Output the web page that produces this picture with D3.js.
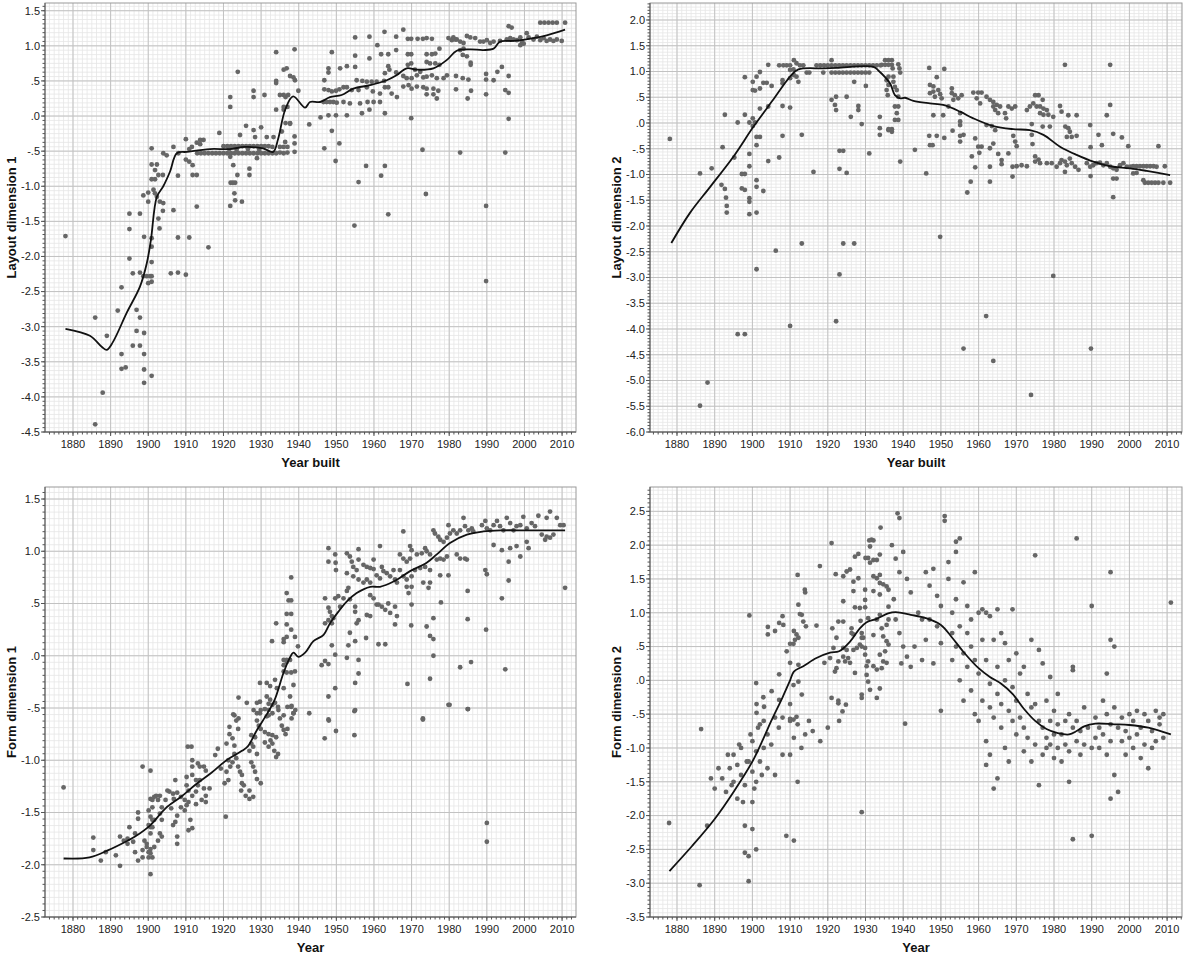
<!DOCTYPE html>
<html>
<head>
<meta charset="utf-8">
<title>Layout and form dimensions by year</title>
<script src="https://d3js.org/d3.v7.min.js"></script>
<style>
  body { margin: 0; background: #fff; }
  svg { display: block; font-family: Arial, "Liberation Sans", sans-serif; }
  .tick-label { font-size: 11px; fill: #222; }
  .axis-title { font-size: 13px; font-weight: bold; fill: #111; }
</style>
</head>
<body>
<svg id="chart"></svg>
<script>
// ---- data (year, score) ----
const yearTicks = [1880, 1890, 1900, 1910, 1920, 1930, 1940, 1950, 1960, 1970, 1980, 1990, 2000, 2010];
const layout1Ticks = [-4.5, -4, -3.5, -3, -2.5, -2, -1.5, -1, -0.5, 0, 0.5, 1, 1.5];
const layout2Ticks = [-6, -5.5, -5, -4.5, -4, -3.5, -3, -2.5, -2, -1.5, -1, -0.5, 0, 0.5, 1, 1.5, 2];
const form1Ticks = [-2.5, -2, -1.5, -1, -0.5, 0, 0.5, 1, 1.5];
const form2Ticks = [-3.5, -3, -2.5, -2, -1.5, -1, -0.5, 0, 0.5, 1, 1.5, 2, 2.5];

const layout1Pts = [
  [1878,-1.71],[1895,-1.39],[1897.8,-1.39],[1895,-1.61],[1898.9,-1.72],[1900.9,-0.46],[1900.9,-0.69],[1902.3,-0.69],
  [1901.8,-0.77],[1900.9,-0.9],[1901.8,-0.9],[1902.7,-0.84],[1903.9,-0.84],[1904,-0.53],[1904.9,-0.56],[1906.7,-0.44],
  [1908,-0.53],[1898.7,-1.13],[1900,-1.09],[1901.4,-1.05],[1901.8,-1.1],[1902.3,-1.15],[1903.1,-1.22],[1904,-1.24],
  [1900,-1.22],[1903.9,-1.35],[1906.7,-1.34],[1902.7,-1.46],[1903,-1.6],[1907.9,-0.85],[1907.9,-1.73],[1910.9,-1.73],
  [1910,-0.33],[1910,-0.62],[1910.9,-0.65],[1911.8,-0.7],[1911.8,-0.84],[1912.9,-0.84],[1912.9,-1.29],[1910.9,-0.47],
  [1911.6,-0.44],[1912.9,-0.38],[1913.8,-0.34],[1914.7,-0.34],[1913.8,-0.4],[1918.9,-0.24],
  [1913,-0.53],[1914,-0.53],[1915,-0.53],[1916,-0.53],[1917,-0.53],[1918,-0.53],[1919,-0.53],[1920,-0.53],
  [1921,-0.53],[1922,-0.53],[1923,-0.53],[1924,-0.53],[1925,-0.53],[1926,-0.53],[1927,-0.53],[1928,-0.53],
  [1929,-0.53],[1930,-0.53],[1931,-0.53],[1932,-0.53],[1933,-0.53],[1934,-0.53],[1935,-0.52],[1936,-0.53],
  [1937,-0.52],[1938.9,-0.51],
  [1920,-0.43],[1921,-0.43],[1922,-0.43],[1923,-0.43],[1924,-0.43],[1925,-0.43],[1926,-0.43],[1927,-0.43],
  [1928,-0.43],[1929,-0.43],[1930,-0.43],[1931,-0.43],[1932,-0.43],[1933,-0.44],[1935,-0.44],[1936,-0.44],[1937,-0.44],
  [1921.5,-0.47],[1923.5,-0.48],[1926.5,-0.47],[1929.5,-0.48],
  [1921.8,0.27],[1921.8,0.13],[1923.8,0.63],[1928,0.36],[1928,0.27],[1930.9,0.3],[1924.4,-0.27],[1926,-0.14],
  [1928,-0.2],[1928.4,-0.3],[1930,-0.16],[1931.5,-0.3],[1933.3,-0.3],[1921.9,-0.95],[1922.5,-0.95],[1923.1,-0.95],
  [1922.9,-1.1],[1923.1,-1.2],[1921.8,-1.28],[1924.9,-1.22],[1923.7,-0.84],[1926.9,-0.75],[1926.9,-0.84],
  [1922.6,-0.7],[1921.8,-0.58],[1928.9,-0.6],
  [1934,0.91],[1938.9,0.95],[1934,0.5],[1934,0.47],[1936,0.66],[1936.8,0.68],[1937.7,0.57],[1938.6,0.55],
  [1939,0.51],[1936.5,0.27],[1934,0.09],[1936,0.09],[1936.5,-0.1],[1937.7,-0.1],[1935.5,-0.22],[1936.4,-0.37],
  [1938.9,-0.29],[1938.9,-0.39],[1935,0.3],[1936,0.3],[1937.2,0.3],[1939.9,0.36],[1936,0.13],[1937,0.13],
  [1937.7,-0.11],[1942.8,-0.12],
  [1900.9,-1.74],[1900.9,-1.86],[1916,-1.87],[1895,-2.03],[1900.9,-2.08],[1895.9,-2.24],[1897.8,-2.23],[1898.7,-2.28],
  [1899.6,-2.28],[1900.5,-2.28],[1900.9,-2.28],[1900,-2.38],[1900.9,-2.36],[1906,-2.24],[1907.9,-2.23],[1910,-2.26],
  [1892.9,-2.44],[1891.9,-2.77],[1885.9,-2.87],[1896.9,-2.76],[1897.8,-2.87],[1896.9,-3.06],[1898.9,-3.09],[1889,-3.13],
  [1895.9,-3.27],[1897.8,-3.27],[1892.9,-3.39],[1898.9,-3.39],[1892.9,-3.6],[1894,-3.58],[1898.9,-3.61],[1900.9,-3.7],
  [1898.9,-3.8],[1887.9,-3.94],[1885.9,-4.39],[1989.8,-2.35],
  [1945.8,-0.02],[1947.9,0.01],[1949.9,0.01],[1952.8,0.01],[1956.8,0.04],[1958.8,0.09],[1962.9,0.04],[1948.8,-0.21],
  [1950.8,-0.39],[1946.8,-0.46],[1949.8,-0.64],[1955.9,-0.94],[1957.9,-0.71],[1962.9,-0.71],[1961.9,-0.85],[1963.8,-1.4],
  [1954.8,-1.56],[1969.9,-0.03],[1972.9,-0.48],[1973.8,-1.11],[1982.9,-0.52],[1989.8,-1.28],[1994.9,-0.52],[1995.8,-0.04],
  [1948.8,0.91],[1955,1.12],[1958.8,1.13],[1962.8,1.2],[1965.9,1.13],[1967.8,1.23],[1969,1.1],[1969.9,1.1],
  [1971.6,1.1],[1973,1.1],[1974,1.11],[1975.4,1.1],[1960.9,1.01],[1965.9,0.94],[1961.9,0.88],[1963.8,0.88],
  [1955,0.86],[1958.8,0.82],[1955,0.7],[1952.8,0.71],[1951,0.68],[1947.9,0.68],[1947.9,0.62],
  [1946.8,0.51],[1955.4,0.51],[1956.9,0.5],[1958.1,0.49],[1959.4,0.49],[1960.7,0.49],[1962.7,0.5],
  [1946.8,0.38],[1947.9,0.37],[1948.8,0.35],[1949.9,0.36],[1950.8,0.38],[1951.9,0.41],[1952.8,0.41],[1954.1,0.37],
  [1955.9,0.37],[1958.1,0.41],[1959.7,0.35],[1961.6,0.32],[1962.9,0.41],[1963.8,0.41],[1964.7,0.32],[1966.1,0.27],
  [1946.6,0.2],[1947.4,0.2],[1948.3,0.2],[1949.2,0.2],[1950.1,0.19],[1951.9,0.2],[1953.6,0.18],[1956.3,0.18],
  [1958.3,0.2],[1959.9,0.2],[1961.6,0.2],
  [1963.8,0.71],[1964.1,0.66],[1962.9,0.61],[1965.9,0.62],[1969,0.88],[1969.9,0.88],[1974,0.88],[1975.4,0.88],
  [1976.3,0.89],[1977.4,0.96],[1979.8,1.11],[1980.7,1.08],[1981.6,1.09],
  [1969,0.73],[1969.9,0.75],[1970.9,0.66],[1972.3,0.63],[1974,0.77],[1974.9,0.75],[1976.3,0.75],[1977.4,0.73],
  [1967.8,0.57],[1968.7,0.54],[1970,0.54],[1971.4,0.58],[1973.1,0.55],[1974,0.56],[1975.4,0.58],[1976.7,0.54],
  [1978.5,0.54],[1979.4,0.58],[1967.8,0.42],[1969.2,0.44],[1970,0.39],[1971.4,0.42],[1973.1,0.41],[1974,0.39],
  [1975.8,0.39],[1977.1,0.36],[1974,0.31],[1975.8,0.31],[1976.7,0.25],
  [1981.8,0.57],[1983.6,0.54],[1985.1,0.52],[1981.8,0.38],[1985.8,0.36],[1984.9,0.25],
  [1981.1,1.12],[1982,1.09],[1982.9,1.06],[1983.8,1.04],[1984.7,1.14],[1985.6,1.12],[1986.9,1.11],[1982.9,0.94],
  [1983.8,0.96],[1983.6,0.87],[1984.7,0.85],[1985.7,0.76],[1985.7,0.73],
  [1989.8,0.6],[1989.8,0.52],[1991.8,0.51],[1992.8,0.63],[1994,0.7],[1995.8,0.57],[1989.8,0.31],[1994.9,0.37],[1995.8,0.33],
  [1988.2,1.06],[1989.1,1.06],[1990,1.08],[1990.9,1.04],[1991.8,1.06],[1993.5,1.07],[1995.3,1.09],[1996.2,1.11],
  [1997.1,1.09],[1998.9,1.12],[2000.6,1.18],[2001.1,1.12],[2002.4,1.09],[2004.2,1.08],[2005.9,1.07],[2007.7,1.07],
  [2008.6,1.09],[1998,1.08],[1999.3,1.06],[2003.3,1.13],[2005.1,1.11],[2006.8,1.09],[1995.8,1.28],[1996.6,1.26],
  [1998.9,1.01],[1999.8,1.03],[2004.2,1.33],[2005.3,1.33],[2006.4,1.33],[2007.5,1.33],[2008.6,1.33],[2010.8,1.33],
  [2009.9,1.07]
];
const layout1Fit = [
  [1878,-3.03],[1884.5,-3.13],[1887.7,-3.29],[1889,-3.33],[1890.6,-3.22],[1894.3,-2.8],[1897.8,-2.43],[1899.6,-2.1],
  [1900.7,-1.77],[1902.3,-1.15],[1904,-1.0],[1905.8,-0.79],[1907.6,-0.53],[1910.3,-0.51],[1916.4,-0.47],[1921.7,-0.47],
  [1925.7,-0.44],[1930.5,-0.46],[1933.2,-0.51],[1934.5,-0.33],[1936.4,0.09],[1938.5,0.28],[1941.7,0.12],[1943,0.2],
  [1945.7,0.2],[1948.3,0.27],[1951.4,0.3],[1954.5,0.39],[1959,0.44],[1963.4,0.51],[1966,0.58],[1968.7,0.68],
  [1971.4,0.66],[1975.8,0.68],[1979.4,0.8],[1982,0.93],[1985.6,0.95],[1989.1,0.94],[1991.8,0.96],[1993.5,1.06],
  [1997,1.07],[2002.4,1.11],[2005.9,1.15],[2010.8,1.23]
];

const layout2Pts = [
  [1878.1,-0.31],[1886.1,-0.98],[1889.2,-0.88],[1892.1,-0.47],[1892.7,0.16],[1896.1,0.01],[1898,0.16],[1895.2,-0.67],
  [1891.8,-1.2],[1892.7,-1.28],[1893,-1.45],[1893.2,-1.61],[1893.2,-1.74],[1897.2,-0.99],[1898,-0.99],[1897.2,-1.27],
  [1898,-1.3],[1899.2,-1.46],[1899.2,-1.53],[1899.2,-1.77],[1901.1,-1.74],[1899.2,-0.6],[1899.2,-0.84],[1899.2,0.01],
  [1900.1,0.09],[1900.7,0.01],[1900.1,-0.06],[1901.1,-0.27],[1902,-0.27],[1901.1,-0.43],[1901.1,-1.11],[1901.1,-1.24],
  [1902.9,-1.32],[1898,0.89],[1900.1,0.8],[1901.1,0.9],[1902,0.99],[1900.1,0.64],[1900.7,0.63],[1902,0.67],
  [1902.9,0.78],[1903.8,0.78],[1905.1,0.72],[1902,0.28],[1904.2,0.32],[1904.2,-0.74],[1907.1,-0.67],[1904.2,1.13],
  [1908,0.33],[1910,0.3],[1908,-0.25],[1913.1,-0.23],[1908,0.83],[1908,0.77],[1910,0.87],
  [1907.1,1.12],[1908.2,1.12],[1909.1,1.12],[1910,1.12],[1911,1.22],[1911.7,1.16],[1912.6,1.12],[1913.5,1.12],
  [1910,1.03],[1910.9,1.04],[1911,0.93],[1911.7,0.9],[1912.2,0.8],[1914.4,0.98],[1915.1,0.98],[1916.2,-0.95],
  [1917,1.12],[1918,1.12],[1919,1.12],[1920,1.12],[1921,1.12],[1922,1.12],[1923,1.12],[1924,1.12],[1925,1.12],
  [1926,1.12],[1927,1.12],[1928,1.12],[1929,1.12],[1930,1.12],[1931,1.12],[1932,1.12],[1933,1.12],[1934,1.12],
  [1921,1.22],[1918.8,0.98],[1921,0.98],[1922,0.98],[1923,0.98],[1924,0.98],[1925,0.98],[1926,0.98],[1927,0.98],
  [1928,0.98],[1929,0.98],[1930,0.98],[1931,0.98],
  [1921,0.45],[1922.2,0.51],[1922.2,0.25],[1921.9,0.35],[1925,0.51],[1928.1,0.33],[1928.1,0.25],[1926.1,0.12],
  [1929,-0.02],[1930.1,0.72],[1927,0.8],[1923.1,-0.54],[1924.1,-0.54],[1923.1,-0.89],[1925,-0.97],[1931,-0.59],
  [1933.8,0.12],[1933.8,-0.1],[1933.8,-0.23],[1936.1,-0.14],[1935.6,0.83],[1936.1,0.74],[1935.6,0.64],[1935.9,0.54],
  [1935.2,1.22],[1936.1,1.22],[1937,1.22],[1934.3,1.13],[1935.2,1.13],[1936.1,1.13],[1937,1.13],[1937.2,1.06],
  [1938.7,1.14],[1939,1.06],[1939.2,0.98],[1936.1,0.9],[1937.4,0.9],[1937.4,0.8],[1937.8,0.7],[1938.3,0.64],
  [1938.7,0.51],[1937.8,0.32],[1938.7,0.32],[1938.3,0.19],[1937.8,0.06],[1938.7,0.06],[1936.1,-0.12],[1937,-0.12],
  [1937,-0.17],[1939.2,-0.75],[1943.1,-0.52],[1946.1,-0.98],[1946.9,1.07],[1950.9,1.05],[1948.9,0.89],
  [1947.1,0.74],[1948,0.71],[1948,0.61],[1947.1,0.58],[1948.4,0.51],[1949.3,0.64],[1949.8,0.56],[1950.2,0.48],
  [1948,0.15],[1950.6,0.15],[1946.9,-0.25],[1947.8,-0.43],[1947.1,-0.43],[1948.9,-0.25],[1950.9,-0.29],
  [1952.9,0.67],[1952.9,0.58],[1953.7,0.54],[1954.6,0.48],[1955.5,0.54],[1953.3,0.45],[1952,0.32],[1955.1,0.19],
  [1955.1,0.03],[1955.1,-0.04],[1953.1,-0.15],[1955.1,-0.25],[1955.1,-0.36],[1956,-0.23],
  [1959.1,-0.3],[1958.2,-0.65],[1959.1,-0.86],[1957.9,-1.14],[1957,-1.35],
  [1958.6,0.59],[1959.9,0.59],[1960.8,0.59],[1959.5,0.48],[1960.4,0.38],[1962.1,0.51],[1963,0.45],[1963.9,0.41],
  [1963.9,0.32],[1964.8,0.35],[1965.7,0.32],[1964.4,0.25],[1965.2,0.19],[1967,0.19],[1967.3,0.09],[1967.9,0.32],
  [1968.8,0.28],[1969.7,0.32],[1959.9,-0.46],[1960.8,-0.46],[1960.2,-0.58],[1963,-0.49],[1963.9,-0.4],[1963,-0.85],
  [1963,-1.14],[1962.1,-0.04],[1963.5,-0.06],[1964.4,-0.14],[1965.2,-0.6],[1966.1,-0.72],[1966.1,-0.8],[1967.9,-0.59],
  [1969.2,-0.25],[1969.7,-0.36],[1970.1,-0.45],[1969,-0.85],[1970.1,-0.84],[1971.4,-0.82],[1972.8,-0.84],[1969,-1.04],
  [1972.8,0.25],[1973.6,0.32],[1974.5,0.38],[1975,0.54],[1975.9,0.54],[1975.4,0.32],[1976.3,0.32],[1977.2,0.28],
  [1978.1,0.25],[1978.5,0.16],[1979.8,0.12],[1977.2,0.16],[1976.3,0.19],[1977,0.45],[1974.1,-0.02],[1974.1,-0.23],
  [1974.3,-0.41],[1975,-0.65],[1975,-0.75],[1975.9,-0.71],[1976.3,-0.78],[1978.1,-0.78],[1977,-0.07],[1978.9,-0.07],
  [1981.6,0.33],[1982,0.22],[1983.8,0.15],[1986,0.15],[1983,-0.07],[1983.8,-0.1],[1984.2,-0.17],[1983.4,-0.27],
  [1984.7,-0.27],[1986,-0.25],[1982.9,1.13],[1994.9,1.13],[1994.9,0.35],[1994,0.15],[1989.6,-0.04],[1991.8,-0.23],
  [1992.7,-0.43],[1989.7,-0.47],[1995.7,-0.21],[1998,-0.28],[1999.7,-0.45],[2007.7,-0.45],
  [1979.4,-0.78],[1980.7,-0.85],[1981.6,-0.78],[1982,-0.72],[1982.9,-0.75],[1983.4,-0.82],[1984.2,-0.69],[1984.7,-0.78],
  [1985.6,-0.85],[1986.5,-0.91],[1982.9,-0.95],[1988.7,-0.78],[1989.6,-0.85],[1990.4,-0.82],[1991.3,-0.78],[1992.2,-0.77],
  [1993.1,-0.82],[1994,-0.78],[1994.9,-0.85],[1995.7,-0.88],[1996.6,-0.91],[1997.5,-0.82],[1998.4,-0.78],[1999.3,-0.85],
  [2000.2,-0.85],[2001,-0.84],[2001.9,-0.84],[2002.8,-0.84],[2003.7,-0.84],[2004.6,-0.84],[2005.5,-0.84],[2006.4,-0.84],
  [2007.2,-0.85],[2009.4,-0.84],[1989.7,-1.03],[1995.7,-1.08],[1996.6,-1.08],[2001,-0.98],[2001.9,-0.97],
  [2003.7,-1.11],[2004.1,-1.16],[2005,-1.16],[2005.9,-1.16],[2006.8,-1.16],[2007.7,-1.16],[2009,-1.16],[2010.8,-1.16],
  [1995.7,-1.44],[1949.8,-2.21],
  [1979.8,-2.97],[1962,-3.75],[1956,-4.38],[1963.9,-4.62],[1989.8,-4.38],[1973.9,-5.28],
  [1906.2,-2.48],[1913.1,-2.34],[1901.1,-2.84],[1896.1,-4.1],[1898,-4.1],[1910,-3.94],[1922.2,-3.85],[1923.1,-2.94],
  [1924.1,-2.34],[1927,-2.34],[1888.1,-5.04],[1886.1,-5.49]
];
const layout2Fit = [
  [1878.5,-2.33],[1883.4,-1.75],[1888.8,-1.24],[1895,-0.65],[1900.3,-0.07],[1905.5,0.45],[1910,0.9],[1912.2,1.04],
  [1918.8,1.06],[1922.4,1.07],[1932.1,1.09],[1933.4,1.02],[1936.5,0.77],[1937.8,0.54],[1939.2,0.48],[1940.5,0.49],
  [1942.7,0.43],[1947.1,0.38],[1950.6,0.35],[1955.1,0.22],[1958.6,0.09],[1963.9,-0.06],[1969.2,-0.12],[1973.6,-0.14],
  [1977.2,-0.23],[1981.6,-0.46],[1986,-0.62],[1990.4,-0.75],[1994.9,-0.84],[2000.2,-0.88],[2004.6,-0.93],[2010.8,-1.01]
];

const form1Pts = [
  [1938,0.75],[1936.8,0.6],[1937.3,0.53],[1938,0.53],[1936.8,0.4],[1938,0.4],[1934,0.31],[1936.8,0.3],
  [1932.9,0.14],[1936,0.16],[1936,0.13],[1936.8,0.18],[1938,0.25],[1939,0.18],[1936,-0.04],[1936.8,-0.04],
  [1936,-0.09],[1936.8,-0.06],[1937.7,-0.04],[1936,-0.15],[1936.8,-0.16],[1938,-0.16],[1939,-0.15],[1939.8,0.09],
  [1929.7,-0.26],[1931.5,-0.26],[1932.4,-0.29],[1933.7,-0.23],[1934.2,-0.31],[1936,-0.31],[1938.6,-0.28],
  [1924,-0.4],[1926.2,-0.45],[1928.9,-0.45],[1929.7,-0.44],[1931.5,-0.39],[1932.4,-0.42],[1932,-0.52],[1933.7,-0.45],
  [1934.6,-0.52],[1936,-0.57],[1937.7,-0.39],[1938,-0.49],[1938.6,-0.55],[1922.6,-0.56],[1924,-0.6],[1928,-0.52],
  [1929.7,-0.55],[1931.5,-0.58],
  [1947.9,1.03],[1947.9,0.9],[1949.7,0.97],[1949.8,0.89],[1949.9,0.82],[1952.8,0.98],[1953.6,0.95],[1954.1,0.9],
  [1954.5,0.85],[1955.4,0.82],[1955.9,0.92],[1955.9,1.02],[1957.2,0.87],[1958.1,0.85],[1959,0.84],[1959.9,0.92],
  [1959.9,0.83],[1952.8,0.79],[1954.5,0.76],[1955.9,0.73],[1957.2,0.7],[1958.1,0.73],[1959,0.7],[1960.7,0.77],
  [1961.6,0.74],[1962.1,0.85],[1962.5,0.81],[1963.4,0.79],[1964.3,0.76],[1965.2,0.82],[1965.6,0.73],[1966.1,0.7],
  [1961.6,1.05],[1959,0.58],[1959.9,0.55],[1960.7,0.49],[1961.2,0.49],[1962.1,0.47],[1963,0.44],[1963.8,0.5],
  [1964.3,0.41],[1965.6,0.47],[1966.1,0.38],[1965.6,0.3],[1958.1,0.39],[1959,0.38],
  [1947,0.55],[1947.9,0.46],[1948.3,0.42],[1948.8,0.38],[1949.7,0.55],[1950.5,0.57],[1951,0.47],[1951.9,0.55],
  [1952.8,0.62],[1953.2,0.65],[1953.6,0.54],[1947,0.31],[1947.9,0.34],[1948.8,0.31],[1949.2,0.36],[1955,0.47],
  [1955,0.42],[1953.6,0.22],[1955,0.14],[1953.2,0.1],[1955.4,0.31],[1955.9,0.34],[1957.9,0.17],[1961.2,0.11],
  [1963,0.11],[1948.8,0.1],[1946.1,-0.09],[1947,-0.05],[1947.9,-0.08],[1949.7,0.01],[1949.7,-0.31],[1947.9,-0.39],
  [1952.8,-0.02],[1955.9,-0.04],[1955.9,-0.17],[1955,-0.26],[1955,-0.52],[1947.9,-0.61],[1942.8,-0.55],
  [1967.8,1.19],[1966.9,0.97],[1967.8,0.93],[1968.7,0.9],[1969.6,0.93],[1970,1.01],[1969.6,1.05],[1971.4,0.97],
  [1972.7,0.98],[1973.6,1.03],[1974,1.0],[1974.9,0.97],[1975.8,1.2],[1976.2,1.17],[1977.1,1.14],[1977.6,1.11],
  [1978.5,1.09],[1979.4,1.13],[1979.8,1.25],[1980.2,1.17],[1981.1,1.2],[1982,1.17],[1982.9,1.2],[1983.8,1.32],
  [1984.2,1.24],[1985.1,1.2],[1986,1.22],[1986.4,1.19],[1979.4,0.95],[1978.5,0.92],[1977.6,0.93],[1976.7,0.92],
  [1966.9,0.82],[1967.8,0.76],[1968.7,0.73],[1970,0.76],[1970.9,0.82],[1972.3,0.84],[1973.6,0.85],[1974.9,0.82],
  [1968.7,0.66],[1970,0.66],[1969.2,0.6],[1970,0.49],[1973.1,0.7],[1974.5,0.65],[1974.9,0.7],[1977.6,0.77],
  [1979.8,0.77],[1982,0.97],[1982.9,0.93],[1984.2,0.93],[1984.7,0.92],
  [1988.7,1.25],[1989.6,1.29],[1990,1.22],[1990.9,1.2],[1991.8,1.25],[1992.7,1.29],[1993.5,1.24],[1994.4,1.2],
  [1995.3,1.32],[1996.2,1.27],[1997.1,1.2],[1997.9,1.24],[1998.9,1.25],[1999.7,1.33],[2000.6,1.22],[2001.9,1.27],
  [2002.8,1.24],[2003.7,1.34],[2004.6,1.16],[2005.5,1.11],[2005.9,1.14],[2006.8,1.13],[2007.7,1.16],[2005.9,1.32],
  [2006.8,1.38],[2008.6,1.32],[2009.5,1.25],[2010.4,1.25],[1991.8,1.06],[1994,1.01],[1996.2,1.03],[1997.9,1.05],
  [1998.9,0.95],[2000.6,1.09],[2001.1,1.03],[1995.8,0.9],[1989.6,0.82],[1990,0.78],[1995.8,0.72],[1994,0.55],
  [1984.9,0.62],[2010.8,0.65],[1969.9,0.29],[1974,0.28],[1974.9,0.19],[1975.8,0.16],[1975.8,0.36],[1975.8,0.0],
  [1977.8,0.51],[1984.9,0.35],[1989.8,0.25],[1982.9,-0.11],[1985.8,-0.06],[1994.9,-0.13],[1968.9,-0.27],[1974.9,-0.22],
  [1979.8,-0.47],[1984.9,-0.51],[1973,-0.6],
  [1877.5,-1.26],[1885.4,-1.74],[1885.4,-1.86],[1887.4,-1.96],[1888.7,-1.88],[1891.4,-1.91],[1892.5,-2.01],[1892.5,-1.73],
  [1893.5,-1.77],[1894.5,-1.75],[1894.5,-1.8],[1896,-1.78],[1896.5,-1.7],[1895,-1.64],[1897.3,-1.5],[1897.3,-1.56],
  [1896.5,-1.88],[1897.3,-1.96],[1898.5,-1.86],[1898.5,-1.93],[1899.6,-1.83],[1898.5,-1.06],[1900.6,-1.1],
  [1899,-1.77],[1899.6,-1.8],[1900.1,-1.88],[1900.1,-1.93],[1900.6,-1.89],[1901.1,-1.93],[1900.6,-1.85],[1900.6,-1.7],
  [1900.6,-1.64],[1900.6,-2.09],[1900.1,-1.62],[1900.6,-1.54],[1900.1,-1.48],[1900.6,-1.37],[1901.1,-1.38],[1901.6,-1.35],
  [1901.1,-1.45],[1902.1,-1.34],[1902.6,-1.38],[1903.1,-1.34],[1901.1,-1.57],[1901.6,-1.57],[1901.1,-1.64],[1902.6,-1.77],
  [1903.1,-1.7],[1903.6,-1.73],[1901.6,-1.83],[1903.6,-1.45],[1903.1,-1.51],[1903.6,-1.57],[1904.6,-1.38],[1905.1,-1.29],
  [1905.6,-1.3],[1906.6,-1.32],[1907.7,-1.31],[1906.8,-1.37],[1906.1,-1.46],[1906.6,-1.62],[1907.2,-1.59],[1907.2,-1.19],
  [1907.7,-1.73],[1907.7,-1.8],[1907.7,-1.53],[1908.7,-1.45],[1909.7,-1.48],[1909.7,-1.38],[1908.7,-1.35],[1910.2,-1.43],
  [1910.7,-1.4],[1910.5,-0.87],[1911.5,-0.87],[1910.2,-1.16],[1910.2,-1.24],[1911.7,-1.14],[1911.7,-1.06],[1912.7,-1.19],
  [1911.7,-1.0],[1910.7,-1.29],[1911.7,-1.34],[1912.7,-1.42],[1911.2,-1.57],[1911.7,-1.65],[1910.7,-1.67],
  [1912.7,-1.3],[1913.2,-1.24],[1913.7,-1.19],[1914.8,-1.27],[1915.3,-1.34],[1915.3,-1.4],[1914.2,-1.38],
  [1913.2,-1.03],[1913.7,-1.06],[1914.8,-1.06],[1915.3,-1.1],[1916.3,-1.27],[1917.8,-0.95],[1918.5,-0.89],[1919.3,-1.08],
  [1920.6,-1.54],[1920.8,-0.84],[1921.6,-0.68],[1922.9,-0.57],[1923.4,-0.62],[1923.9,-0.7],[1921.6,-0.75],[1922.4,-0.79],
  [1922.9,-0.86],[1922.9,-0.94],[1922.4,-1.02],[1923.4,-0.98],[1923.9,-1.06],[1924.4,-1.11],[1924.9,-1.14],[1924.9,-1.22],
  [1925.4,-1.24],[1924.7,-1.29],[1925.9,-1.34],[1926.9,-1.29],[1926.9,-0.91],[1927.4,-0.84],[1927.9,-0.87],[1928.9,-0.94],
  [1927.4,-0.76],[1928.4,-0.78],[1928.9,-0.62],[1929.4,-0.67],[1921.3,-1.0],[1921.8,-1.06],[1920.8,-1.11],[1921.3,-1.19],
  [1920.3,-1.22],[1927.4,-1.02],[1927.9,-1.06],[1928.4,-1.11],[1928.9,-1.18],[1929.9,-1.22],[1926.9,-1.37],[1927.9,-1.35],
  [1928.9,-0.55],[1929.9,-0.52],[1931,-0.51],[1932,-0.57],[1933,-0.55],[1929.9,-0.7],[1931,-0.73],[1932,-0.75],
  [1932.5,-0.81],[1933,-0.76],[1934,-0.78],[1931,-0.83],[1932,-0.87],[1933,-0.84],[1933.5,-0.91],[1934.5,-0.94],
  [1934,-0.97],[1932,-0.46],[1933,-0.47],[1934.5,-0.49],[1935,-0.6],[1935.5,-0.67],[1936,-0.71],[1936.5,-0.75],
  [1937,-0.7],[1938.1,-0.6],[1938.6,-0.55],[1939.1,-0.52],[1937,-0.49],[1938.1,-0.48],
  [1946.9,-0.79],[1948,-0.62],[1949.9,-0.72],[1954.8,-0.53],[1954.8,-0.76],[1973,-0.61],[1980.1,-0.47],[1985,-0.51],
  [1990,-1.6],[1990,-1.78]
];
const form1Fit = [
  [1877.5,-1.94],[1884.4,-1.93],[1889.4,-1.86],[1894.5,-1.77],[1896.5,-1.73],[1900.6,-1.62],[1904.6,-1.46],[1908.7,-1.35],
  [1912.7,-1.23],[1916.8,-1.12],[1920.8,-1.0],[1924.9,-0.91],[1926.4,-0.87],[1928.9,-0.71],[1931,-0.59],[1933.5,-0.43],
  [1935.9,-0.17],[1937.5,-0.03],[1938.6,0.03],[1939.9,-0.01],[1941.7,0.03],[1943.9,0.14],[1946.6,0.2],[1948.3,0.31],
  [1950.5,0.42],[1952.8,0.52],[1955.4,0.6],[1959,0.66],[1961.6,0.66],[1965.2,0.71],[1969.6,0.81],[1974,0.89],
  [1976.7,0.97],[1980.2,1.08],[1984.7,1.16],[1989.1,1.19],[1993.5,1.2],[2001.5,1.2],[2010.8,1.2]
];

const form2Pts = [
  [1877.9,-2.11],[1886,-3.03],[1886.4,-0.72],[1888,-2.15],[1889,-1.45],[1890,-1.6],[1891,-1.3],[1892,-1.45],
  [1893,-1.65],[1893.5,-1.1],[1894,-1.3],[1894.5,-1.55],[1895,-1.1],[1895,-1.5],[1896,-1.25],[1896,-1.75],
  [1896.5,-0.95],[1897,-1.4],[1897,-1.0],[1897.5,-1.8],[1898,-1.55],[1898,-2.15],[1898,-2.55],[1898.5,-1.2],
  [1899,-2.6],[1899,-2.97],[1899,-1.2],[1899.5,-0.8],[1900,-1.8],[1900,-1.35],[1900,-0.9],[1900,-2.2],
  [1900.5,-1.6],[1901,-1.05],[1901,-1.5],[1901,-2.5],[1901.5,-0.7],[1902,-1.2],[1902,-0.65],[1902.5,-1.4],
  [1903,-1.0],[1903,-0.6],[1904,-0.8],[1904,-1.3],[1905,-0.95],[1906,-1.4],[1906,-0.55],[1907,-0.7],
  [1908,-0.55],[1908,-1.1],[1909,-2.3],[1910,-1.1],[1910,-0.6],[1911,-2.37],[1911,-0.85],[1912,-0.65],
  [1912,-1.5],[1913,-1.0],[1914,-0.8],[1915,-0.6],[1916,-0.75],[1918,-0.9],[1920,-0.7],[1923,-0.6],[1929,-1.95],
  [1899.2,0.96],[1901,-0.04],[1901.1,-0.35],[1901.1,-0.48],[1902.9,-0.25],[1903.1,-0.39],[1904.1,0.79],[1904.1,0.68],
  [1906,0.73],[1905.1,-0.16],[1907.1,0.09],[1907.1,0.85],[1908.2,0.82],[1908,0.95],[1907.1,-0.29],[1909.1,0.43],
  [1910,0.54],[1910.9,0.54],[1910,0.26],[1912.2,0.23],[1911,0.73],[1911.7,0.68],[1912.2,0.63],[1911.3,0.6],
  [1912,1.56],[1912.2,1.12],[1912.6,0.98],[1913.5,0.87],[1913.1,0.97],[1914.2,0.8],[1913.9,1.34],[1914,1.3],
  [1910.9,-0.07],[1912.2,-0.02],[1913.1,-0.21],[1910,-0.35],[1911.7,-0.54],[1910.9,-0.58],[1910,-0.57],
  [1917,0.81],[1917.9,1.69],[1919.1,0.26],[1920.6,0.33],[1921,2.03],[1922.1,1.57],[1924.1,1.54],[1925,1.61],
  [1925.9,1.64],[1921.2,0.77],[1922.8,0.87],[1924.1,0.87],[1921.5,0.48],[1922.3,0.63],[1921,-0.26],[1922.8,-0.3],
  [1922.8,-0.34],[1924.8,-0.36],[1923.9,-0.46],[1922.3,0.18],[1921.9,0.13],[1922.8,0.28],[1924.1,0.35],[1924.6,0.28],
  [1925.4,0.33],[1925.9,0.26],[1925,0.45],[1924.1,0.48],[1926.8,0.45],[1927.7,0.48],[1928.5,0.53],[1929.4,0.63],
  [1926.8,0.68],[1926.3,0.77],[1926.3,0.7],[1924.1,1.17],[1926.8,1.46],[1928.1,1.51],[1926.8,1.32],[1927.2,1.83],
  [1928.1,1.87],[1927.2,1.08],[1928.5,1.07],[1929.9,1.19],[1929.9,1.08],[1930.7,0.92],[1928.7,0.88],[1929,0.7],
  [1929,0.63],[1929,0.5],[1927.2,0.11],[1930.3,0.08],[1930.7,-0.02],[1929,-0.21],[1929,-0.26],[1931.2,-0.14],
  [1933,-0.26],[1933.8,-0.12],[1931,2.07],[1931.6,2.08],[1932.1,2.07],[1931.2,1.98],[1930,1.81],[1930.7,1.81],
  [1931.2,1.74],[1932.1,1.78],[1933,1.78],[1932.1,1.54],[1933,1.51],[1933.8,1.56],[1933.8,1.86],[1934,2.26],
  [1929.9,1.34],[1932.1,1.32],[1933.8,1.44],[1933.8,1.27],[1934.7,1.42],[1935.6,1.39],[1936.1,1.34],[1933.8,0.97],
  [1934.3,0.77],[1934.7,0.65],[1935.6,0.58],[1936.1,0.53],[1935.2,0.43],[1934.7,0.28],[1935.6,0.26],[1934.3,0.18],
  [1933,0.16],[1932.1,0.21],[1933.8,0.38],[1933,0.9],[1932.1,0.67],[1929.9,0.48],[1929.9,0.38],[1930.7,0.28],
  [1930.3,0.21],[1936.1,1.09],[1936.1,0.9],[1935.6,0.82],
  [1937,2.0],[1937.5,1.2],[1938,1.8],[1938,0.9],[1938.5,2.47],[1939,2.4],[1939,1.6],[1939,0.7],[1939.5,0.25],
  [1940,1.9],[1940,0.5],[1940.5,-0.64],[1941,1.5],[1941,0.35],[1942,1.3],[1942,0.2],[1943,0.5],[1944,1.0],
  [1945,0.9],[1945,0.3],[1946,1.6],[1946,0.6],[1947,1.4],[1947,0.9],[1948,1.65],[1948,0.25],[1949,1.25],
  [1949,0.8],[1950,1.1],[1950,0.55],[1950,-0.45],[1951,2.43],[1951,2.36],[1952,1.75],[1952,1.5],[1953,1.0],
  [1953,0.7],[1953,0.3],[1954,1.9],[1954,2.05],[1954,1.2],[1954,0.5],[1955,2.1],[1955,0.8],[1955,0.0],
  [1956,1.45],[1956,0.4],[1956,-0.3],[1957,1.1],[1957,0.2],[1957,0.7],[1958,0.9],[1958,0.5],[1958,-0.15],
  [1959,1.6],[1959,0.3],[1959,-0.5],[1960,1.0],[1960,0.1],[1960,-0.6],[1961,1.05],[1961,0.6],[1961,-0.3],
  [1962,1.0],[1962,0.3],[1962,-0.9],[1962,-1.25],[1963,0.95],[1963,-0.05],[1963,-0.4],[1963,-1.1],[1964,0.6],
  [1964,-0.55],[1964,-1.6],[1965,1.05],[1965,0.2],[1965,-0.2],[1965,-1.45],[1966,0.7],[1966,-0.35],[1966,-0.7],
  [1967,0.55],[1967,0.0],[1967,-1.0],[1968,0.3],[1968,-0.45],[1968,-1.2],[1969,1.05],[1969,-0.1],[1969,-0.6],
  [1970,0.4],[1970,-0.3],[1970,-0.8],[1971,0.1],[1971,-0.55],[1972,0.2],[1972,-0.7],[1972,-1.05],[1973,-0.2],
  [1973,-0.85],[1974,0.6],[1974,-0.4],[1974,-1.2],[1975,1.85],[1975,-0.35],[1975,-0.95],[1976,0.45],[1976,-0.6],
  [1976,-1.55],[1977,0.25],[1977,-0.7],[1977,-1.1],[1978,-0.3],[1978,-0.85],[1978,-1.0],[1979,0.05],[1979,-0.6],
  [1979,-0.95],[1980,-0.45],[1980,-0.8],[1980,-1.15],[1981,-0.2],[1981,-1.0],[1981,-0.65],[1982,-0.8],[1982,-1.2],
  [1983,-0.6],[1983,-0.95],[1984,-0.5],[1984,-1.05],[1984,-1.5],[1985,-0.7],[1985,0.2],[1985,0.15],[1985,-2.35],
  [1986,2.1],[1986,-0.6],[1986,-0.9],[1987,-0.75],[1987,-1.1],[1988,-0.4],[1988,-0.95],[1989,-0.7],[1990,1.1],
  [1990,-1.0],[1990,-2.3],[1991,-0.55],[1991,-0.85],[1992,-0.7],[1992,-1.0],[1993,-0.3],[1993,-0.8],[1994,0.1],
  [1994,-1.1],[1994,-0.5],[1995,1.6],[1995,0.6],[1995,-0.65],[1995,-0.9],[1995,-1.75],[1996,0.5],[1996,-0.4],
  [1996,-1.4],[1997,-0.7],[1997,-1.65],[1998,-0.9],[1998,-0.55],[1999,-1.1],[1999,-0.75],[2000,-0.5],[2000,-0.85],
  [2001,-0.6],[2001,-1.0],[2002,-0.45],[2002,-0.8],[2003,-0.7],[2003,-1.15],[2004,-0.95],[2004,-0.5],[2005,-0.6],
  [2005,-1.3],[2006,-0.75],[2006,-1.0],[2007,-0.45],[2007,-0.9],[2008,-0.55],[2008,-0.65],[2009,-0.85],[2009,-0.5],
  [2011,1.15]
];
const form2Fit = [
  [1878,-2.82],[1884,-2.45],[1890,-2.05],[1895,-1.65],[1900,-1.2],[1903,-0.85],[1905,-0.6],[1908,-0.25],
  [1910,0.0],[1911,0.13],[1913.5,0.21],[1917,0.33],[1920.6,0.41],[1923,0.43],[1926,0.58],[1928.5,0.77],
  [1930.3,0.86],[1933,0.91],[1936,0.99],[1938,1.01],[1942,0.97],[1946,0.92],[1950,0.82],[1953,0.63],
  [1956,0.42],[1960,0.18],[1963,0.05],[1966,-0.05],[1969,-0.2],[1972,-0.42],[1975,-0.6],[1978,-0.72],
  [1981,-0.78],[1984,-0.8],[1986,-0.75],[1988,-0.68],[1991,-0.64],[1996,-0.65],[2000,-0.66],[2005,-0.7],[2011,-0.8]
];

// ---- layout ----
const W = 1194, H = 955;
const svg = d3.select("#chart").attr("width", W).attr("height", H);
svg.append("rect").attr("width", W).attr("height", H).attr("fill", "#fff");

const panels = [
  { pts: layout1Pts, fit: layout1Fit, ticks: layout1Ticks, yTitle: "Layout dimension 1", xTitle: "Year built",
    box: [45, 576, 3, 432], xDom: [1872.56, 2013.7], yDom: [-4.5, 1.61] },
  { pts: layout2Pts, fit: layout2Fit, ticks: layout2Ticks, yTitle: "Layout dimension 2", xTitle: "Year built",
    box: [650, 1182, 3, 432], xDom: [1872.84, 2013.95], yDom: [-6, 2.33] },
  { pts: form1Pts, fit: form1Fit, ticks: form1Ticks, yTitle: "Form dimension 1", xTitle: "Year",
    box: [45, 576, 487, 917], xDom: [1872.56, 2013.7], yDom: [-2.5, 1.615] },
  { pts: form2Pts, fit: form2Fit, ticks: form2Ticks, yTitle: "Form dimension 2", xTitle: "Year",
    box: [650, 1182, 487, 917], xDom: [1872.84, 2013.95], yDom: [-3.5, 2.86] }
];

function fmt(v) {
  // SPSS style: no leading zero
  return v.toFixed(1).replace(/^(-?)0\./, "$1.");
}

function minorTicks(majors, lo, hi) {
  const step = (majors[1] - majors[0]) / 8;
  const out = [];
  for (let v = majors[0]; v >= lo; v -= step) out.push(v);
  for (let v = majors[0] + step; v <= hi; v += step) out.push(v);
  return out.filter(v => v >= lo && v <= hi);
}

panels.forEach(p => {
  const [x0, x1, y0, y1] = p.box;
  const x = d3.scaleLinear().domain(p.xDom).range([x0, x1]);
  const y = d3.scaleLinear().domain(p.yDom).range([y1, y0]);
  const g = svg.append("g");

  const xMinor = minorTicks(yearTicks, p.xDom[0], p.xDom[1]);
  const yMinor = minorTicks(p.ticks, p.yDom[0], p.yDom[1]);

  // minor grid
  g.selectAll(".vmin").data(xMinor).enter().append("line")
    .attr("x1", d => x(d)).attr("x2", d => x(d)).attr("y1", y0).attr("y2", y1)
    .attr("stroke", "#e6e6e6").attr("stroke-width", 0.8);
  g.selectAll(".hmin").data(yMinor).enter().append("line")
    .attr("y1", d => y(d)).attr("y2", d => y(d)).attr("x1", x0).attr("x2", x1)
    .attr("stroke", "#e6e6e6").attr("stroke-width", 0.8);
  // major grid
  g.selectAll(".vmaj").data(yearTicks).enter().append("line")
    .attr("x1", d => x(d)).attr("x2", d => x(d)).attr("y1", y0).attr("y2", y1)
    .attr("stroke", "#c2c2c2").attr("stroke-width", 1);
  g.selectAll(".hmaj").data(p.ticks).enter().append("line")
    .attr("y1", d => y(d)).attr("y2", d => y(d)).attr("x1", x0).attr("x2", x1)
    .attr("stroke", "#c2c2c2").attr("stroke-width", 1);

  // frame
  g.append("rect").attr("x", x0).attr("y", y0).attr("width", x1 - x0).attr("height", y1 - y0)
    .attr("fill", "none").attr("stroke", "#9a9a9a").attr("stroke-width", 1);
  g.append("line").attr("x1", x0).attr("x2", x1).attr("y1", y1).attr("y2", y1).attr("stroke", "#555");
  g.append("line").attr("x1", x0).attr("x2", x0).attr("y1", y0).attr("y2", y1).attr("stroke", "#555");

  // tick marks
  g.selectAll(".xtm").data(xMinor).enter().append("line")
    .attr("x1", d => x(d)).attr("x2", d => x(d)).attr("y1", y1).attr("y2", y1 + 2.5).attr("stroke", "#555");
  g.selectAll(".xtM").data(yearTicks).enter().append("line")
    .attr("x1", d => x(d)).attr("x2", d => x(d)).attr("y1", y1).attr("y2", y1 + 4).attr("stroke", "#555");
  g.selectAll(".ytm").data(yMinor).enter().append("line")
    .attr("y1", d => y(d)).attr("y2", d => y(d)).attr("x1", x0 - 2.5).attr("x2", x0).attr("stroke", "#555");
  g.selectAll(".ytM").data(p.ticks).enter().append("line")
    .attr("y1", d => y(d)).attr("y2", d => y(d)).attr("x1", x0 - 4).attr("x2", x0).attr("stroke", "#555");

  // tick labels
  g.selectAll(".xl").data(yearTicks).enter().append("text")
    .attr("class", "tick-label").attr("x", d => x(d)).attr("y", y1 + 16)
    .attr("text-anchor", "middle").text(d => d);
  g.selectAll(".yl").data(p.ticks).enter().append("text")
    .attr("class", "tick-label").attr("x", x0 - 5).attr("y", d => y(d)).attr("dy", "0.35em")
    .attr("text-anchor", "end").text(d => fmt(d));

  // titles
  g.append("text").attr("class", "axis-title").attr("x", (x0 + x1) / 2).attr("y", y1 + 35)
    .attr("text-anchor", "middle").text(p.xTitle);
  g.append("text").attr("class", "axis-title")
    .attr("transform", `translate(${x0 - 29},${(y0 + y1) / 2}) rotate(-90)`)
    .attr("text-anchor", "middle").text(p.yTitle);

  // points
  g.selectAll(".pt").data(p.pts).enter().append("circle")
    .attr("cx", d => x(d[0])).attr("cy", d => y(d[1])).attr("r", 2.4)
    .attr("fill", "#666");

  // fit line
  const line = d3.line().x(d => x(d[0])).y(d => y(d[1])).curve(d3.curveCatmullRom.alpha(0.5));
  g.append("path").datum(p.fit).attr("d", line)
    .attr("fill", "none").attr("stroke", "#111").attr("stroke-width", 1.8);
});
</script>
</body>
</html>
